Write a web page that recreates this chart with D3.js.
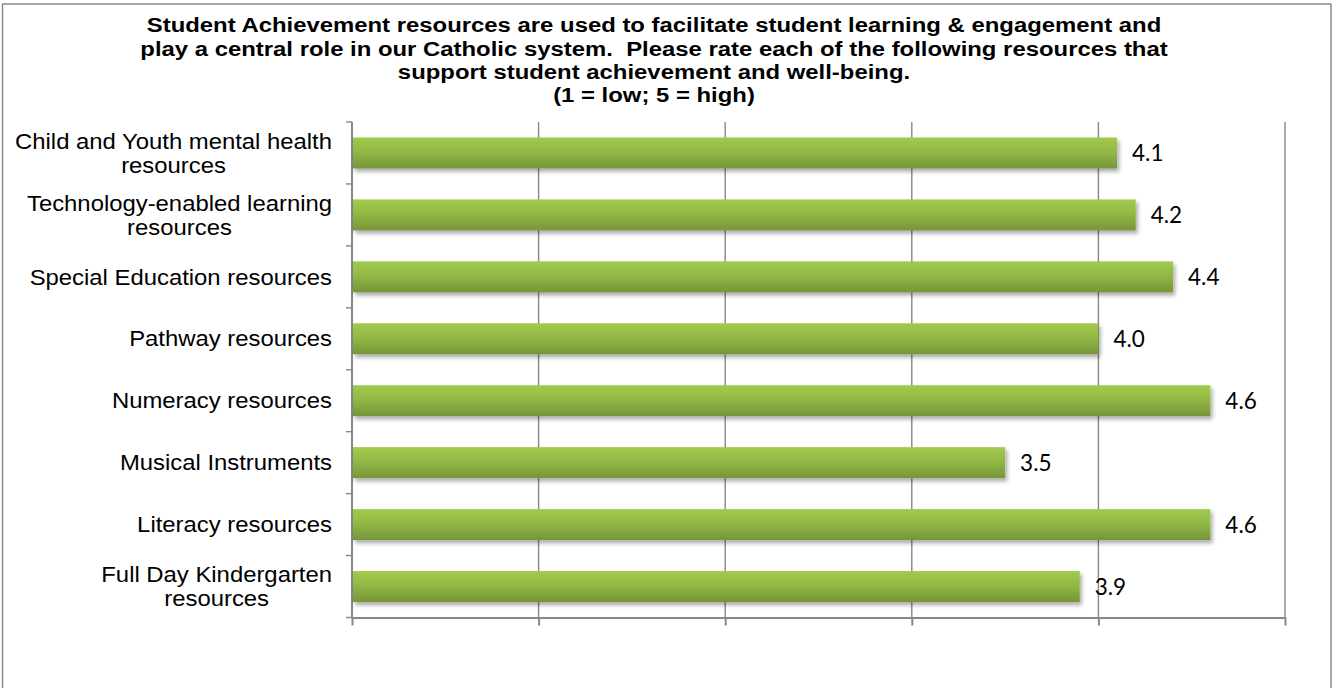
<!DOCTYPE html>
<html>
<head>
<meta charset="utf-8">
<script src="https://cdn.jsdelivr.net/npm/d3@7"></script>
<style>
  html, body { margin: 0; padding: 0; background: #fff; }
  svg { display: block; }
</style>
</head>
<body>
<svg id="chart" width="1332" height="688"></svg>
<script>
// Survey categories, top to bottom
const categories = [
  ["Child and Youth mental health", "resources"],
  ["Technology-enabled learning", "resources"],
  ["Special Education resources"],
  ["Pathway resources"],
  ["Numeracy resources"],
  ["Musical Instruments"],
  ["Literacy resources"],
  ["Full Day Kindergarten", "resources"]
];
// Average rating per category (1 = low; 5 = high)
const ratings = [4.1, 4.2, 4.4, 4.0, 4.6, 3.5, 4.6, 3.9];
const xTicks = [0, 1, 2, 3, 4, 5];
const titleLines = [
  "Student Achievement resources are used to facilitate student learning & engagement and",
  "play a central role in our Catholic system.  Please rate each of the following resources that",
  "support student achievement and well-being.",
  "(1 = low; 5 = high)"
];

const W = 1332, H = 688;
const plot = { left: 352, right: 1285, top: 122, bottom: 617.5 };
const gridColor = "#878787";

const svg = d3.select("#chart");

// Outer chart frame
svg.append("rect")
  .attr("x", 2.5).attr("y", 4)
  .attr("width", 1328.5).attr("height", 700)
  .attr("fill", "#fff")
  .attr("stroke", "#8c8c8c").attr("stroke-width", 1.5);

const defs = svg.append("defs");
const grad = defs.append("linearGradient")
  .attr("id", "barFill").attr("x1", 0).attr("y1", 0).attr("x2", 0).attr("y2", 1);
grad.append("stop").attr("offset", "0%").attr("stop-color", "#a2ca4d");
grad.append("stop").attr("offset", "45%").attr("stop-color", "#92b945");
grad.append("stop").attr("offset", "100%").attr("stop-color", "#769538");

const shadow = defs.append("filter").attr("id", "barShadow")
  .attr("x", "-5%").attr("y", "-30%").attr("width", "115%").attr("height", "190%");
shadow.append("feDropShadow")
  .attr("dx", 2).attr("dy", 3).attr("stdDeviation", 2.2)
  .attr("flood-color", "#000").attr("flood-opacity", 0.35);

const x = d3.scaleLinear().domain([0, 5]).range([plot.left, plot.right]);
const y = d3.scaleBand()
  .domain(d3.range(categories.length))
  .range([plot.top, plot.bottom])
  .paddingInner(0.5).paddingOuter(0.25);

// Vertical gridlines
svg.append("g")
  .selectAll("line")
  .data(xTicks)
  .join("line")
  .attr("x1", d => x(d)).attr("x2", d => x(d))
  .attr("y1", plot.top).attr("y2", plot.bottom)
  .attr("stroke", gridColor).attr("stroke-width", 1.4);

// Bottom axis (no labels, tick marks only)
const xAxis = svg.append("g")
  .attr("transform", `translate(0,${plot.bottom})`)
  .call(d3.axisBottom(x).tickValues(xTicks).tickSize(8).tickSizeOuter(0).tickFormat(""));
xAxis.select(".domain").attr("stroke", gridColor).attr("stroke-width", 2);
xAxis.selectAll(".tick line").attr("stroke", gridColor).attr("stroke-width", 2);

// Left axis: tick marks at category boundaries
const step = y.step();
const boundaries = d3.range(categories.length + 1).map(i => plot.top + i * step);
svg.append("g")
  .selectAll("line")
  .data(boundaries)
  .join("line")
  .attr("x1", plot.left - 6).attr("x2", plot.left)
  .attr("y1", d => d).attr("y2", d => d)
  .attr("stroke", gridColor).attr("stroke-width", 1.4);
svg.append("line")
  .attr("x1", plot.left).attr("x2", plot.left)
  .attr("y1", plot.top).attr("y2", plot.bottom)
  .attr("stroke", gridColor).attr("stroke-width", 2);

// Bars
svg.append("g")
  .selectAll("rect")
  .data(ratings)
  .join("rect")
  .attr("x", x(0) + 1)
  .attr("y", (d, i) => y(i))
  .attr("width", d => x(d) - x(0) - 1)
  .attr("height", y.bandwidth())
  .attr("fill", "url(#barFill)")
  .attr("filter", "url(#barShadow)");

// Value labels
svg.append("g")
  .selectAll("text")
  .data(ratings)
  .join("text")
  .attr("x", d => x(d) + 15)
  .attr("y", (d, i) => y(i) + y.bandwidth() / 2)
  .attr("dy", "0.36em")
  .attr("font-family", "Lato, 'Open Sans', sans-serif")
  .attr("font-size", 22.5)
  .attr("fill", "#000")
  .text(d => d.toFixed(1));

// Category labels: multi-line, centred within a block right-aligned to the axis
const labelFont = 22;
const labelLine = 24;
const labelStretch = 1.085;
categories.forEach((lines, i) => {
  const cy = y(i) + y.bandwidth() / 2;
  const g = svg.append("g")
    .attr("transform", `translate(332,0) scale(${labelStretch},1)`);
  const t = g.append("text")
    .attr("text-anchor", "middle")
    .attr("font-family", "'Liberation Sans', Arial, sans-serif")
    .attr("font-size", labelFont)
    .attr("fill", "#000");
  const spans = lines.map((ln, j) => t.append("tspan")
    .attr("x", 0)
    .attr("y", cy + (j - (lines.length - 1) / 2) * labelLine)
    .attr("dy", "0.35em")
    .text(ln));
  const w = d3.max(spans, s => s.node().getComputedTextLength());
  spans.forEach(s => s.attr("x", -w / 2));
});

// Title (slightly widened bold face)
const titleStretch = 1.166;
const titleG = svg.append("g")
  .attr("transform", `translate(654,0) scale(${titleStretch},1)`)
  .append("text")
  .attr("text-anchor", "middle")
  .attr("font-family", "'Liberation Sans', Arial, sans-serif")
  .attr("font-weight", "bold")
  .attr("font-size", 20.5)
  .attr("fill", "#000")
  .style("white-space", "pre");
titleLines.forEach((ln, j) => {
  titleG.append("tspan")
    .attr("x", 0)
    .attr("y", 32.3 + j * 23.4)
    .text(ln);
});
</script>
</body>
</html>
